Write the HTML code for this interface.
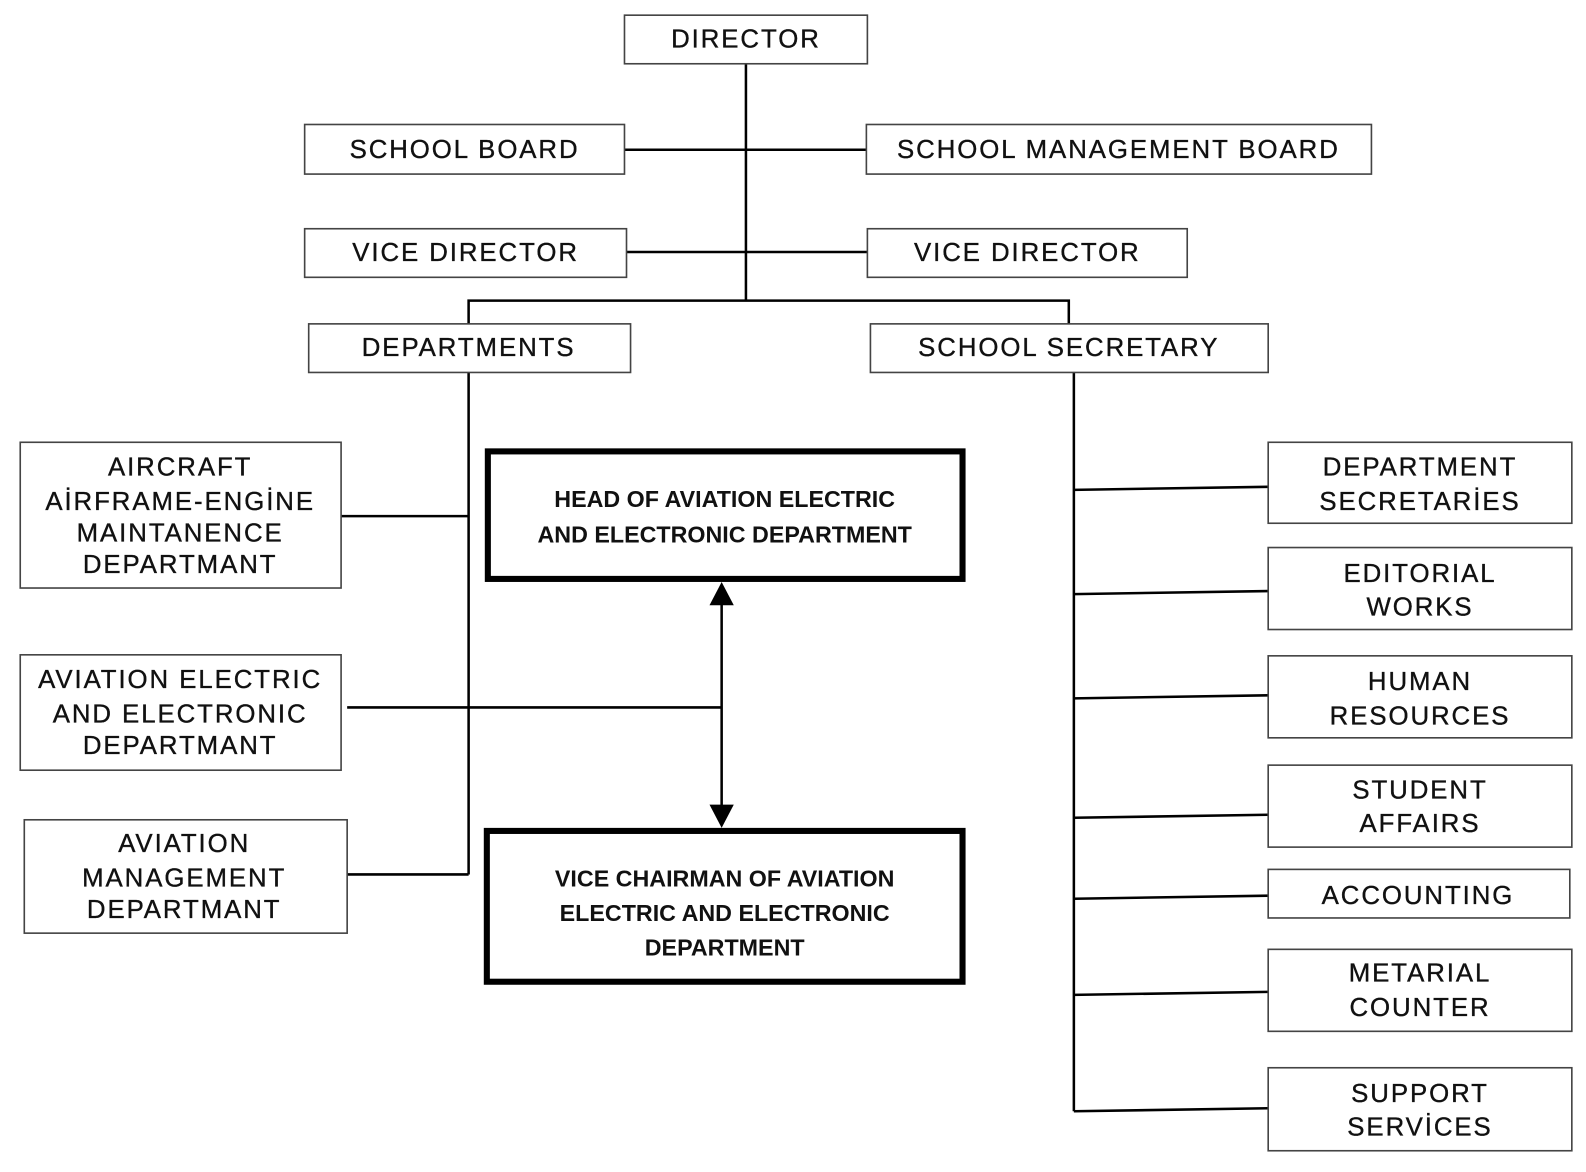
<!DOCTYPE html>
<html><head><meta charset="utf-8"><style>
html,body{margin:0;padding:0;background:#fff;}
svg{display:block;}
text{font-family:"Liberation Sans",sans-serif;font-size:25.5px;letter-spacing:1.9px;fill:#111;stroke:#111;stroke-width:0.35px;text-anchor:middle;}
text.b{font-weight:bold;font-size:23px;letter-spacing:0;stroke-width:0;}
.bx{fill:#fff;stroke:#444;stroke-width:1.6;}
.bb{fill:#fff;stroke:#000;stroke-width:6;}
line,polyline{stroke:#000;stroke-width:2.5;fill:none;}
</style></head><body>
<svg width="1586" height="1172" viewBox="0 0 1567 1158" preserveAspectRatio="none" xmlns="http://www.w3.org/2000/svg">
<line x1="737" y1="63" x2="737" y2="297"/>
<line x1="617" y1="148" x2="856" y2="148"/>
<line x1="619" y1="249" x2="857" y2="249"/>
<polyline points="463,320 463,297 1056,297 1056,320"/>
<line x1="463" y1="368" x2="463" y2="864"/>
<line x1="337" y1="510" x2="463" y2="510"/>
<line x1="343" y1="699" x2="713" y2="699"/>
<line x1="343" y1="864" x2="463" y2="864"/>
<line x1="713" y1="595" x2="713" y2="798"/>
<polygon points="713,575 701,598 725,598" fill="#000"/>
<polygon points="713,818 701,795 725,795" fill="#000"/>
<line x1="1061" y1="368" x2="1061" y2="1098"/>
<line x1="1061" y1="484" x2="1253" y2="481"/>
<line x1="1061" y1="587" x2="1253" y2="584"/>
<line x1="1061" y1="690" x2="1253" y2="687"/>
<line x1="1061" y1="808" x2="1253" y2="805"/>
<line x1="1061" y1="888" x2="1253" y2="885"/>
<line x1="1061" y1="983" x2="1253" y2="980"/>
<line x1="1061" y1="1098" x2="1253" y2="1095"/>
<rect class="bx" x="617" y="15" width="240" height="48"/><text x="737" y="47">DIRECTOR</text>
<rect class="bx" x="301" y="123" width="316" height="49"/><text x="459" y="156">SCHOOL BOARD</text>
<rect class="bx" x="856" y="123" width="499" height="49"/><text x="1105" y="156">SCHOOL MANAGEMENT BOARD</text>
<rect class="bx" x="301" y="226" width="318" height="48"/><text x="460" y="258">VICE DIRECTOR</text>
<rect class="bx" x="857" y="226" width="316" height="48"/><text x="1015" y="258">VICE DIRECTOR</text>
<rect class="bx" x="305" y="320" width="318" height="48"/><text x="463" y="352">DEPARTMENTS</text>
<rect class="bx" x="860" y="320" width="393" height="48"/><text x="1056" y="352">SCHOOL SECRETARY</text>
<rect class="bx" x="20" y="437" width="317" height="144"/>
<text x="178" y="470">AIRCRAFT</text><text x="178" y="504">AİRFRAME-ENGİNE</text><text x="178" y="535">MAINTANENCE</text><text x="178" y="566">DEPARTMANT</text>
<rect class="bx" x="20" y="647" width="317" height="114"/>
<text x="178" y="680">AVIATION ELECTRIC</text><text x="178" y="714">AND ELECTRONIC</text><text x="178" y="745">DEPARTMANT</text>
<rect class="bx" x="24" y="810" width="319" height="112"/>
<text x="182" y="842">AVIATION</text><text x="182" y="876">MANAGEMENT</text><text x="182" y="907">DEPARTMANT</text>
<rect class="bb" x="482" y="446" width="469" height="126"/>
<text class="b" x="716" y="501">HEAD OF AVIATION ELECTRIC</text><text class="b" x="716" y="536">AND ELECTRONIC DEPARTMENT</text>
<rect class="bb" x="481" y="821" width="470" height="149"/>
<text class="b" x="716" y="876">VICE CHAIRMAN OF AVIATION</text><text class="b" x="716" y="910">ELECTRIC AND ELECTRONIC</text><text class="b" x="716" y="944">DEPARTMENT</text>
<rect class="bx" x="1253" y="437" width="300" height="80"/><text x="1403" y="470">DEPARTMENT</text><text x="1403" y="504">SECRETARİES</text>
<rect class="bx" x="1253" y="541" width="300" height="81"/><text x="1403" y="575">EDITORIAL</text><text x="1403" y="608">WORKS</text>
<rect class="bx" x="1253" y="648" width="300" height="81"/><text x="1403" y="682">HUMAN</text><text x="1403" y="716">RESOURCES</text>
<rect class="bx" x="1253" y="756" width="300" height="81"/><text x="1403" y="789">STUDENT</text><text x="1403" y="822">AFFAIRS</text>
<rect class="bx" x="1253" y="859" width="298" height="48"/><text x="1401" y="893">ACCOUNTING</text>
<rect class="bx" x="1253" y="938" width="300" height="81"/><text x="1403" y="970">METARIAL</text><text x="1403" y="1004">COUNTER</text>
<rect class="bx" x="1253" y="1055" width="300" height="82"/><text x="1403" y="1089">SUPPORT</text><text x="1403" y="1122">SERVİCES</text>
</svg>
</body></html>
